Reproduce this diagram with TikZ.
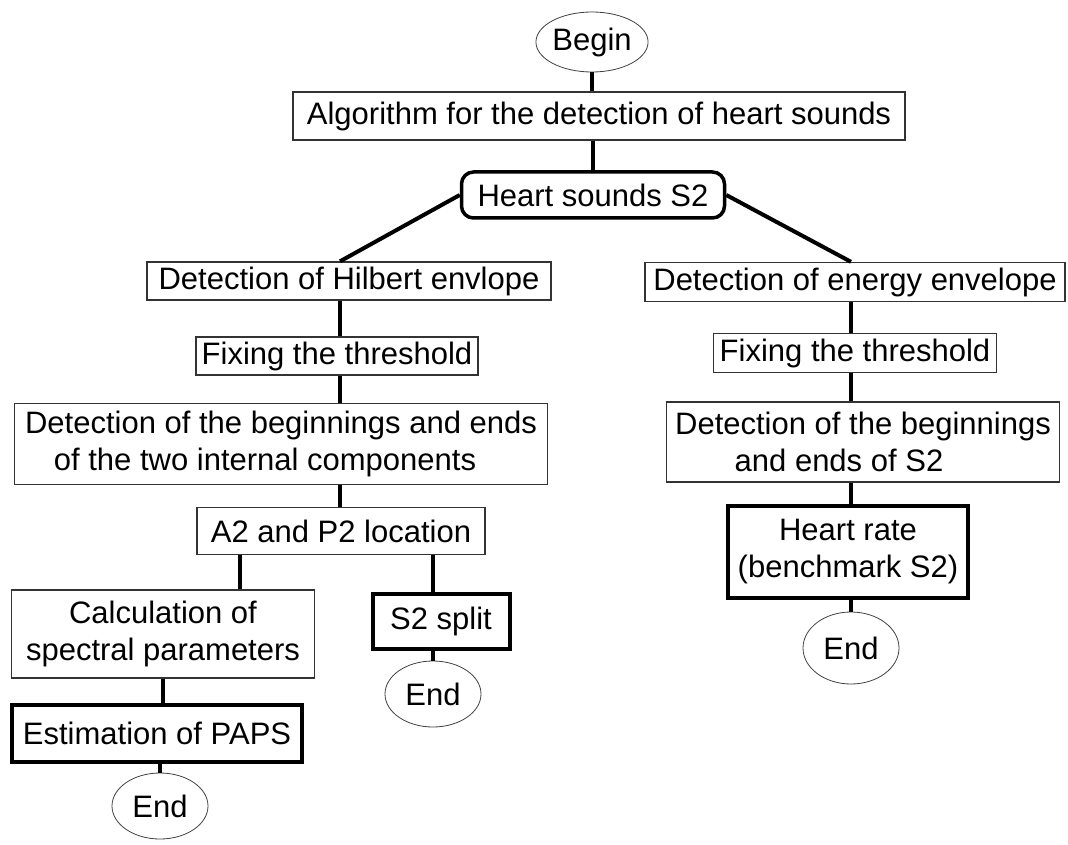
\documentclass[tikz,border=0pt]{standalone}
\usepackage{fontspec}
\setmainfont{Liberation Sans}
\usetikzlibrary{shapes.geometric,calc}
\begin{document}
\begin{tikzpicture}[x=1pt,y=-1pt,
  every node/.style={font=\fontsize{31}{37}\selectfont, inner sep=0pt, align=center},
  stepbox/.style={draw=black!80, line width=1.3pt, rectangle},
  keybox/.style={draw=black, line width=4pt, rectangle},
  roundbox/.style={draw=black, line width=3.5pt, rounded corners=12pt, rectangle},
  terminal/.style={draw=black!75, line width=0.8pt, ellipse},
  link/.style={draw=black, line width=4pt}]
\useasboundingbox (0,0) rectangle (1068,845);

% spines along which the vertical links run
\coordinate (lspine) at (340,0);
\coordinate (calcx) at (240,0);
\coordinate (splitx) at (433,0);
\coordinate (rspine) at (851,0);

% top of the chart
\node[terminal, minimum width=106pt, minimum height=60pt] (begin) at (592,42) {Begin};
\node[stepbox, minimum width=612pt, minimum height=48pt] (algo) at (599,116) {Algorithm for the detection of heart sounds};
\node[roundbox, minimum width=263pt, minimum height=46pt] (hs2) at (593,195) {Heart sounds S2};

% left branch
\node[stepbox, minimum width=404pt, minimum height=38pt] (hil) at (349,281) {Detection of Hilbert envlope};
\node[stepbox, minimum width=282pt, minimum height=38pt] (fixL) at (337,356) {Fixing the threshold};
\node[stepbox, minimum width=533pt, minimum height=81pt] (detL) at (281,444) {Detection of the beginnings and ends\\of the two internal components\hspace*{32pt}};
\node[stepbox, minimum width=288pt, minimum height=47pt] (a2p2) at (341,531) {A2 and P2 location};
\node[stepbox, minimum width=303pt, minimum height=88pt] (calc) at (163,634) {Calculation of\\spectral parameters};
\node[keybox, minimum width=290pt, minimum height=57pt] (paps) at (157,733) {Estimation of PAPS};
\node[terminal, minimum width=96pt, minimum height=66pt] (endA) at (160,806) {End};
\node[keybox, minimum width=137pt, minimum height=55pt] (split) at (441,621) {S2 split};
\node[terminal, minimum width=96pt, minimum height=66pt] (endB) at (433,694) {End};

% right branch
\node[stepbox, minimum width=420pt, minimum height=39pt] (en) at (855,282) {Detection of energy envelope};
\node[stepbox, minimum width=283pt, minimum height=39pt] (fixR) at (855,353) {Fixing the threshold};
\node[stepbox, minimum width=393pt, minimum height=80pt] (detR) at (863,442) {Detection of the beginnings\\and ends of S2\hspace*{48pt}};
\node[keybox, minimum width=240pt, minimum height=92pt] (hr) at (848,552) {Heart rate\\(benchmark S2)};
\node[terminal, minimum width=96pt, minimum height=72pt] (endC) at (851,648) {End};

% links
\draw[link] (begin.south) -- (begin.south |- algo.north);
\draw[link] (algo.south -| hs2) -- (hs2.north);
\draw[link] (hs2.west) -- (hil.north -| lspine);
\draw[link] (hs2.east) -- (en.north -| rspine);
\draw[link] (hil.south -| lspine) -- (fixL.north -| lspine);
\draw[link] (fixL.south -| lspine) -- (detL.north -| lspine);
\draw[link] (detL.south -| lspine) -- (a2p2.north -| lspine);
\draw[link] (a2p2.south -| calcx) -- (calc.north -| calcx);
\draw[link] (a2p2.south -| splitx) -- (split.north -| splitx);
\draw[link] (calc.south) -- (paps.north -| calc.south);
\draw[link] (paps.south -| endA) -- (endA.north);
\draw[link] (split.south -| endB) -- (endB.north);
\draw[link] (en.south -| rspine) -- (fixR.north -| rspine);
\draw[link] (fixR.south -| rspine) -- (detR.north -| rspine);
\draw[link] (detR.south -| rspine) -- (hr.north -| rspine);
\draw[link] (hr.south -| rspine) -- (endC.north -| rspine);
\end{tikzpicture}
\end{document}
